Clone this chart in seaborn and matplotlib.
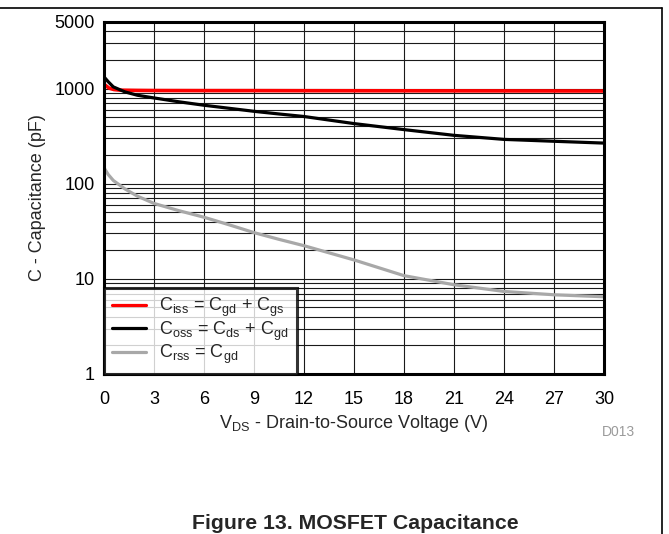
import numpy as np
import pandas as pd
import matplotlib
matplotlib.use("Agg")
import matplotlib.pyplot as plt
from matplotlib.lines import Line2D
import seaborn as sns

# ---- data ----
ciss_v = [0, 0.3, 0.6, 1.0, 2.0, 3, 6, 9, 12, 15, 18, 21, 24, 27, 30]
ciss_c = [1110, 1010, 975, 960, 955, 952, 950, 950, 948, 947, 946, 945, 944, 943, 942]

coss_v = [0, 0.25, 0.56, 1.26, 2.0, 3, 4.5, 6, 7.5, 9, 10.5, 12, 15, 18, 21, 24, 27, 30]
coss_c = [1325, 1180, 1040, 921, 850, 796, 725, 667, 620, 576, 540, 508, 428, 370, 322, 292, 279, 267]

crss_v = [0, 0.25, 0.56, 1.26, 2.0, 3, 4.5, 6, 7.5, 9, 10.5, 12, 15, 18, 21, 24, 27, 30]
crss_c = [147, 125, 108, 88, 74, 62, 52, 44.4, 37, 30.6, 26, 22.3, 15.8, 10.8, 8.67, 7.37, 6.8, 6.48]

x_ticks = [0, 3, 6, 9, 12, 15, 18, 21, 24, 27, 30]
y_ticks = [1, 10, 100, 1000, 5000]
y_grid = [m * 10 ** d for d in range(0, 4) for m in range(1, 10)] + [5000]

labels = [r"C$_{\mathrm{iss}}$ = C$_{\mathrm{gd}}$ + C$_{\mathrm{gs}}$",
          r"C$_{\mathrm{oss}}$ = C$_{\mathrm{ds}}$ + C$_{\mathrm{gd}}$",
          r"C$_{\mathrm{rss}}$ = C$_{\mathrm{gd}}$"]
colors = ["#ff0000", "#000000", "#a8a8a8"]

# ---- style ----
sns.set_style("white")
plt.rcParams["font.family"] = ["Liberation Sans", "DejaVu Sans"]
plt.rcParams["mathtext.fontset"] = "custom"
plt.rcParams["mathtext.rm"] = "Liberation Sans"
plt.rcParams["mathtext.it"] = "Liberation Sans:italic"
plt.rcParams["mathtext.bf"] = "Liberation Sans:bold"

fig = plt.figure(figsize=(6.69, 5.34), dpi=100)
ax = fig.add_axes([104 / 669, 1 - 374 / 534, 500 / 669, 352 / 534])

# grid
for yv in y_grid:
    ax.axhline(yv, color="#1a1a1a", lw=0.8, zorder=1)
for xv in x_ticks:
    ax.axvline(xv, color="#1a1a1a", lw=0.8, zorder=1)

series = [(ciss_v, ciss_c), (coss_v, coss_c), (crss_v, crss_c)]
lws = [2.6, 2.3, 2.3]
for (xs, ys), lab, col, lw in zip(series, labels, colors, lws):
    df = pd.DataFrame({"V": xs, "C": ys})
    sns.lineplot(data=df, x="V", y="C", ax=ax, color=col, lw=lw, label=lab, zorder=3)

ax.set_yscale("log")
ax.set_xlim(0, 30)
ax.set_ylim(1, 5000)
ax.set_xticks(x_ticks)
ax.set_xticklabels([str(v) for v in x_ticks])
ax.set_yticks(y_ticks)
ax.set_yticklabels([str(v) for v in y_ticks])
ax.yaxis.set_minor_locator(matplotlib.ticker.NullLocator())
ax.tick_params(axis="both", length=0, labelsize=13, colors="black")
ax.tick_params(axis="y", pad=6.5)
ax.tick_params(axis="x", pad=12)
for sp in ax.spines.values():
    sp.set_visible(True)
    sp.set_color("black")
    sp.set_linewidth(2.2)
    sp.set_zorder(5)

ax.set_xlabel(r"V$_{\mathrm{DS}}$ - Drain-to-Source Voltage (V)", fontsize=13, labelpad=4)
ax.set_ylabel("C - Capacitance (pF)", fontsize=13, labelpad=6)

leg = ax.legend(loc="lower left", bbox_to_anchor=(0, 0), borderaxespad=0,
                fontsize=13, handlelength=1.9, handletextpad=0.7,
                labelspacing=0.0, borderpad=0.45, frameon=True, fancybox=False)
leg.get_frame().set_edgecolor("black")
leg.get_frame().set_linewidth(2.2)
leg.set_zorder(6)
for h in leg.get_lines():
    h.set_linewidth(2.3)

# page frame fragments and captions
fig.add_artist(Line2D([0, 662 / 669], [1 - 8 / 534, 1 - 8 / 534], color="black", lw=1.2))
fig.add_artist(Line2D([662 / 669, 662 / 669], [1 - 8 / 534, 0], color="black", lw=1.2))
fig.text(635 / 669, 1 - 432 / 534, "D013", ha="right", va="center", fontsize=10, color="#9a9a9a")
fig.text(355 / 669, 1 - 523.5 / 534, "Figure 13. MOSFET Capacitance", ha="center", va="center",
         fontsize=15.3, fontweight="bold")

fig.savefig("out.png", dpi=100)
